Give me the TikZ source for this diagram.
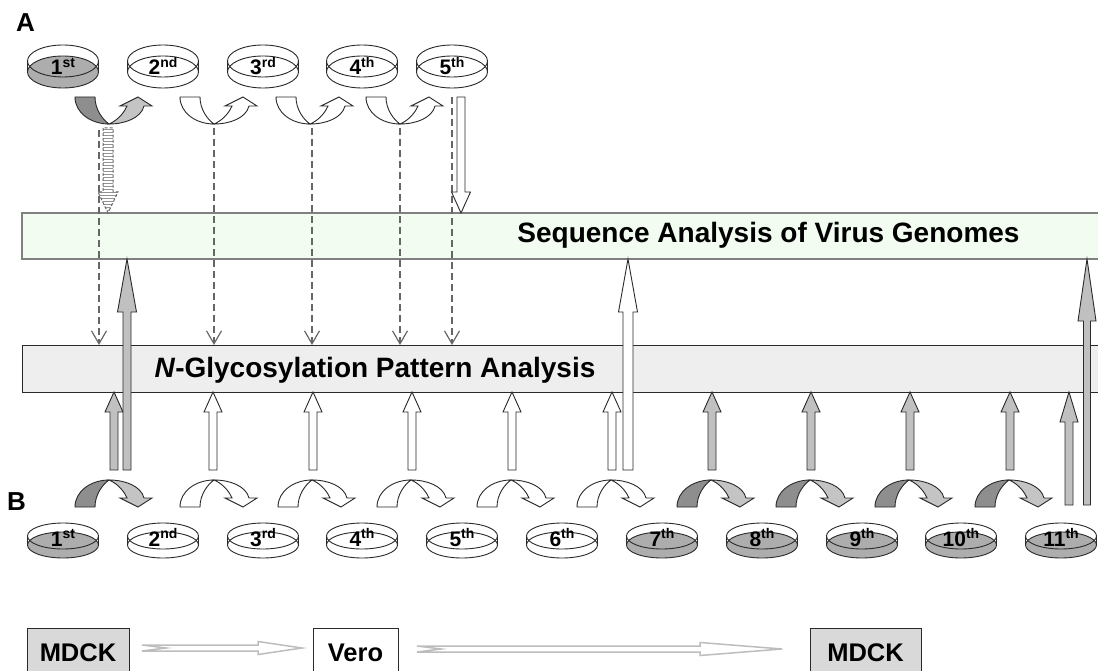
\documentclass[tikz,border=0pt]{standalone}
\usepackage{fontspec}
\setmainfont{Liberation Sans}
\usetikzlibrary{arrows.meta}

\definecolor{dishgray}{HTML}{ADADAD}
\definecolor{armdark}{HTML}{8E8E8E}
\definecolor{armlight}{HTML}{C4C4C4}
\definecolor{blockgray}{HTML}{C0C0C0}
\definecolor{seqfill}{HTML}{F2FCF0}
\definecolor{glyfill}{HTML}{EEEEEE}
\definecolor{cellgray}{HTML}{D9D9D9}
\definecolor{dashgray}{HTML}{666666}
\definecolor{pathgray}{HTML}{BDBDBD}
\definecolor{inkline}{HTML}{2A2A2A}

% ordinal label: number with raised suffix
\newcommand\ordlabel[2]{#1\raisebox{7.5pt}{\fontsize{14}{14}\selectfont #2}}

% petri dish: #1 name, #2 cx, #3 rim centre y, #4 y radius, #5 rim-to-base offset, #6 fill, #7 label baseline y, #8 label
\newcommand\petri[8]{%
  \fill[#6] (#2,#3+#5) ellipse [x radius=35.5, y radius=#4];
  \draw[dishline] (#2,#3+#5) ellipse [x radius=35.5, y radius=#4];
  \draw[dishline] (#2,#3) ellipse [x radius=35.5, y radius=#4];
  \draw[dishline] (#2-35.5,#3) -- (#2-35.5,#3+#5) (#2+35.5,#3) -- (#2+35.5,#3+#5);
  \node[dishtext, anchor=base] (#1) at (#2,#7) {#8};
}

% bent passage arrow: #1 x0, #2 y0, #3 yscale (1 = dips down, -1 = arches up), #4 back colour, #5 front colour
\newcommand\bentarrow[5]{%
  \begin{scope}[shift={(#1,#2)}, yscale=#3]
    \filldraw[fill=#4, arrowline] (0,0) .. controls (0,16) and (16,27) .. (34,27)
      .. controls (27,22) and (20,12) .. (20,0) -- cycle;
    \filldraw[fill=#5, arrowline] (34,27) .. controls (50,27) and (66,21) .. (69,9)
      -- (77,9) -- (63,0) -- (45,9) -- (52,9) .. controls (48,18) and (41,24) .. (34,27) -- cycle;
  \end{scope}}

% outline of a vertical block arrow: #1 x, #2 y of tail, #3 y of tip, #4 signed head length,
% #5 shaft half width, #6 head half width
\newcommand\blockpath[6]{(#1-#5,#2) -- (#1-#5,#3+#4) -- (#1-#6,#3+#4) -- (#1,#3)
    -- (#1+#6,#3+#4) -- (#1+#5,#3+#4) -- (#1+#5,#2) -- cycle}
% vertical block arrow, #7 style
\newcommand\blockarrow[7]{\draw[#7] \blockpath{#1}{#2}{#3}{#4}{#5}{#6};}

% hollow horizontal arrow with notched tail: #1 tail x, #2 head base x, #3 tip x, #4 y
\newcommand\passarrow[4]{%
  \draw[passage] (#1,#4-3) -- (#2,#4-3) -- (#2,#4-6.5) -- (#3,#4) -- (#2,#4+6.5)
    -- (#2,#4+3) -- (#1,#4+3) -- (#1+24,#4) -- cycle;}

\tikzset{
  dishline/.style={draw=inkline, line width=0.9},
  dishtext/.style={font=\fontsize{21}{21}\selectfont\bfseries, inner sep=0},
  arrowline/.style={draw=inkline, line width=0.9},
  blockg/.style={fill=blockgray, draw=inkline, line width=0.9},
  blockw/.style={fill=white, draw=inkline, line width=0.9},
  bandtext/.style={font=\fontsize{28}{28}\selectfont\bfseries, inner sep=0},
  paneltext/.style={font=\fontsize{26}{26}\selectfont\bfseries, inner sep=0},
  celltext/.style={font=\fontsize{25.5}{25.5}\selectfont\bfseries, inner sep=0},
  cellbox/.style={draw=inkline, line width=1},
  dashlink/.style={draw=dashgray, line width=1.4, dash pattern=on 7pt off 4pt,
    -{Straight Barb[length=13pt,width=15pt,line width=1.2pt]}},
  passage/.style={draw=pathgray, line width=1.5, fill=white},
  hatchline/.style={draw=gray!85, line width=0.9},
  hatchedge/.style={draw=dashgray, line width=1, dash pattern=on 3pt off 2pt},
}

\begin{document}
\begin{tikzpicture}[x=1pt, y=-1pt]
\useasboundingbox (0,0) rectangle (1098,671);
\clip (0,0) rectangle (1098,671);
\fill[white] (0,0) rectangle (1098,671);

% analysis bands
\draw[fill=seqfill, draw=gray, line width=1.2] (22,213) rectangle (1120,259);
\draw[fill=glyfill, draw=inkline, line width=1] (22,345) rectangle (1120,392);
\node[bandtext, anchor=base] (seqtext) at (768.5,243) {Sequence Analysis of Virus Genomes};
\node[bandtext, anchor=base] (glytext) at (375,377) {\textit{N}-Glycosylation Pattern Analysis};

% panel letters
\node[paneltext, anchor=base west] (panelA) at (16,32) {A};
\node[paneltext, anchor=base west] (panelB) at (7,510) {B};

% series A dishes
\petri{a1}{63}{61}{16}{11}{dishgray}{75}{\ordlabel{1}{st}}
\petri{a2}{163}{61}{16}{11}{white}{75}{\ordlabel{2}{nd}}
\petri{a3}{263}{61}{16}{11}{white}{75}{\ordlabel{3}{rd}}
\petri{a4}{362}{61}{16}{11}{white}{75}{\ordlabel{4}{th}}
\petri{a5}{452}{61}{16}{11}{white}{75}{\ordlabel{5}{th}}

% series B dishes
\petri{b1}{63}{536}{13}{9}{dishgray}{546}{\ordlabel{1}{st}}
\petri{b2}{163}{536}{13}{9}{white}{546}{\ordlabel{2}{nd}}
\petri{b3}{263}{536}{13}{9}{white}{546}{\ordlabel{3}{rd}}
\petri{b4}{362}{536}{13}{9}{white}{546}{\ordlabel{4}{th}}
\petri{b5}{462}{536}{13}{9}{white}{546}{\ordlabel{5}{th}}
\petri{b6}{562}{536}{13}{9}{white}{546}{\ordlabel{6}{th}}
\petri{b7}{662}{536}{13}{9}{dishgray}{546}{\ordlabel{7}{th}}
\petri{b8}{762}{536}{13}{9}{dishgray}{546}{\ordlabel{8}{th}}
\petri{b9}{862}{536}{13}{9}{dishgray}{546}{\ordlabel{9}{th}}
\petri{b10}{961}{536}{13}{9}{dishgray}{546}{\ordlabel{10}{th}}
\petri{b11}{1061}{536}{13}{9}{dishgray}{546}{\ordlabel{11}{th}}

% passages, series A
\bentarrow{75}{97}{1}{armdark}{armlight}
\bentarrow{180}{97}{1}{white}{white}
\bentarrow{276}{97}{1}{white}{white}
\bentarrow{366}{97}{1}{white}{white}

% passages, series B
\bentarrow{75}{507}{-1}{armdark}{armlight}
\bentarrow{180}{507}{-1}{white}{white}
\bentarrow{278}{507}{-1}{white}{white}
\bentarrow{377}{507}{-1}{white}{white}
\bentarrow{477}{507}{-1}{white}{white}
\bentarrow{577}{507}{-1}{white}{white}
\bentarrow{677}{507}{-1}{armdark}{armlight}
\bentarrow{776}{507}{-1}{armdark}{armlight}
\bentarrow{875}{507}{-1}{armdark}{armlight}
\bentarrow{975}{507}{-1}{armdark}{armlight}

% series A to glycosylation analysis
\foreach \x/\y in {99/130, 214/128, 312/128, 400/128, 452/97}
  \draw[dashlink] (\x,\y) -- (\x,345);

% series A to sequence analysis: striped arrow from the first passage
\begin{scope}
  \fill[white] \blockpath{108}{128}{213}{-21}{5}{10};
  \clip \blockpath{108}{128}{213}{-21}{5}{10};
  \foreach \s in {129,132,...,213}
    \draw[hatchline] (95,\s) -- (121,\s);
\end{scope}
\draw[hatchedge] \blockpath{108}{128}{213}{-21}{5}{10};
\blockarrow{461}{97}{213}{-21}{4}{9.5}{blockw}

% series B to glycosylation analysis
\blockarrow{114}{470}{392}{20}{4}{9}{blockg}
\foreach \x in {213, 313, 412, 512, 612}
  \blockarrow{\x}{470}{392}{20}{4}{9}{blockw};
\foreach \x in {712, 811, 910, 1010}
  \blockarrow{\x}{470}{392}{20}{4}{9}{blockg};
\blockarrow{1069}{505}{392}{30}{4}{9}{blockg}

% series B to sequence analysis
\blockarrow{127}{470}{259}{53}{4}{9.5}{blockg}
\blockarrow{628}{470}{259}{53}{5}{9.5}{blockw}
\blockarrow{1087}{505}{259}{62}{3.5}{9}{blockg}

% host cell lines
\draw[cellbox, fill=cellgray] (27,628) rectangle (129,690);
\node[celltext, anchor=base] (mdckA) at (78,661) {MDCK};
\draw[cellbox, fill=white] (313,628) rectangle (398,690);
\node[celltext, anchor=base] (vero) at (355.5,661) {Vero};
\draw[cellbox, fill=cellgray] (810,628) rectangle (921,690);
\node[celltext, anchor=base] (mdckB) at (865.5,661) {MDCK};
\passarrow{142}{258}{302}{648}
\passarrow{417}{700}{782}{649}
\end{tikzpicture}
\end{document}
